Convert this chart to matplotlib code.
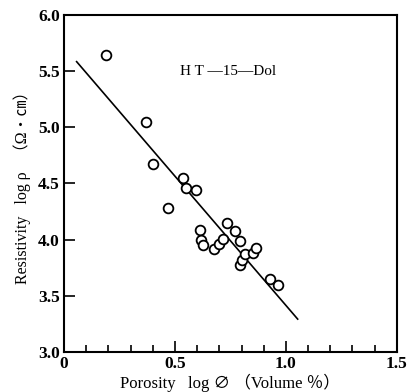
import numpy as np
import matplotlib.pyplot as plt
from matplotlib.ticker import MultipleLocator

# porosity (log) and resistivity (log)
log_phi = [0.19, 0.37, 0.40, 0.47, 0.537, 0.548, 0.596,
           0.613, 0.617, 0.628, 0.677, 0.697, 0.715, 0.733,
           0.771, 0.791, 0.794, 0.801, 0.814, 0.850, 0.865,
           0.928, 0.964]
log_rho = [5.64, 5.05, 4.67, 4.28, 4.546, 4.462, 4.442,
           4.085, 4.00, 3.95, 3.92, 3.96, 4.01, 4.15,
           4.08, 3.99, 3.77, 3.82, 3.87, 3.88, 3.93,
           3.652, 3.593]

# regression line end points
fit_x = [0.057, 1.053]
fit_y = [5.584, 3.293]

xticks = [0, 0.5, 1.0, 1.5]
xtick_labels = ['0', '0.5', '1.0', '1.5']
yticks = [3.0, 3.5, 4.0, 4.5, 5.0, 5.5, 6.0]
ytick_labels = ['3.0', '3.5', '4.0', '4.5', '5.0', '5.5', '6.0']

serif = ['Liberation Serif', 'Noto Sans CJK JP', 'DejaVu Sans']
plt.rcParams['font.family'] = serif

fig = plt.figure(figsize=(4.1, 3.92), dpi=100)
ax = fig.add_axes([0.156, 0.102, 0.812, 0.86])

ax.plot(fit_x, fit_y, color='black', lw=1.2)
ax.plot(log_phi, log_rho, 'o', ms=7, mfc='white', mec='black', mew=1.3)

ax.set_xlim(0, 1.5)
ax.set_ylim(3.0, 6.0)
ax.set_xticks(xticks)
ax.set_xticklabels(xtick_labels)
ax.xaxis.set_minor_locator(MultipleLocator(0.1))
ax.set_yticks(yticks)
ax.set_yticklabels(ytick_labels)
ax.tick_params(which='major', direction='in', length=8, width=1.2,
               labelsize=12.5, pad=3)
ax.tick_params(which='minor', direction='in', length=5, width=1.2)
for lab in ax.get_xticklabels() + ax.get_yticklabels():
    lab.set_fontweight('bold')
for s in ax.spines.values():
    s.set_linewidth(1.5)

ax.text(0.74, 5.50, 'H T —15—Dol', fontsize=11, ha='center', va='center')

ax.set_xlabel('Porosity   log ∅ （Volume ％）', fontsize=12, labelpad=1)
ax.set_ylabel('Resistivity   log ρ   （Ω・㎝）', fontsize=11.5, labelpad=5)

fig.savefig('out.png', dpi=100)
